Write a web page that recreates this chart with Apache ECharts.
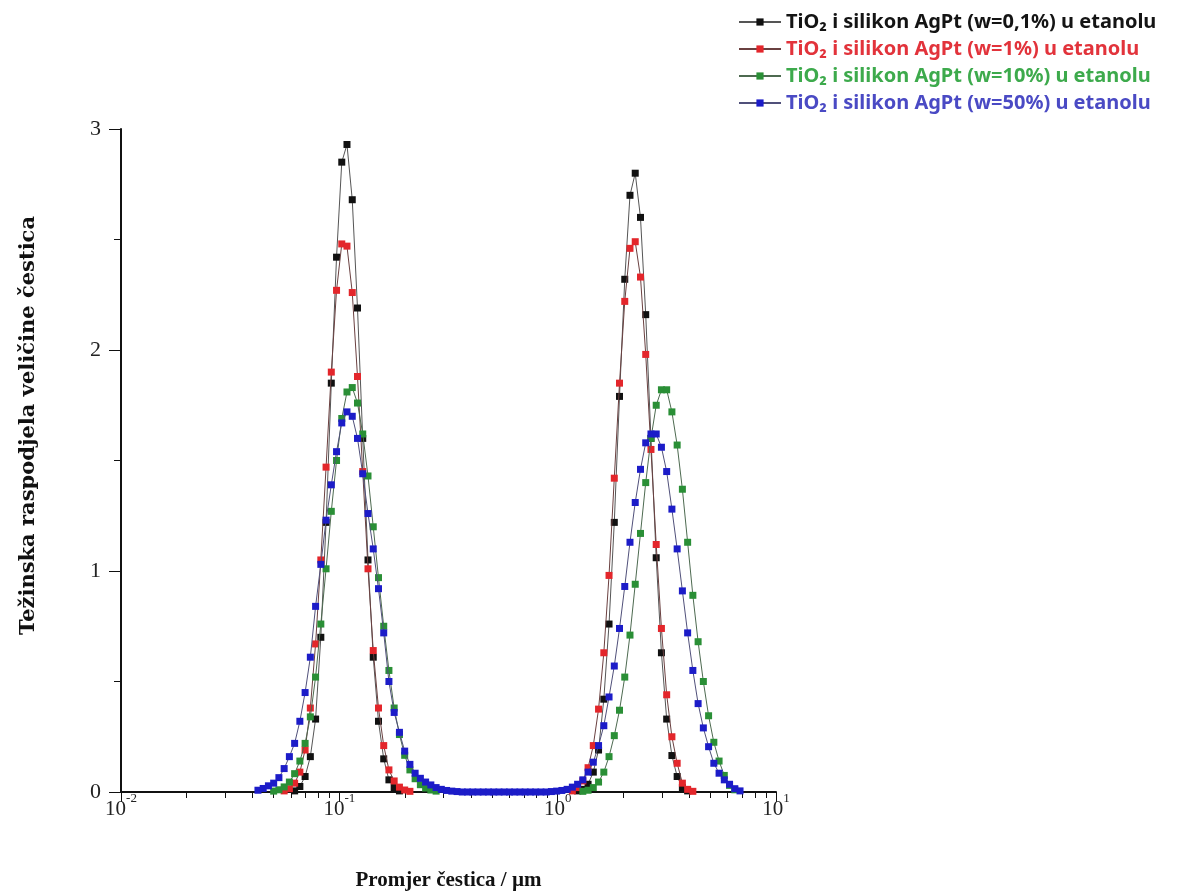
<!DOCTYPE html>
<html>
<head>
<meta charset="utf-8">
<script src="https://cdn.jsdelivr.net/npm/echarts@6/dist/echarts.min.js"></script>
<style>
html,body{margin:0;padding:0;background:#fff;}
#chart{width:1181px;height:896px;}
</style>
</head>
<body>
<div id="chart"></div>
<script>
// particle size bins (µm)
var sizes = [
  0.04239, 0.04480, 0.04734, 0.05003, 0.05287, 0.05588, 0.05905, 0.06241, 0.06595, 0.06970,
  0.07366, 0.07785, 0.08227, 0.08694, 0.09188, 0.09710, 0.1026, 0.1084, 0.1146, 0.1211,
  0.1280, 0.1353, 0.1430, 0.1511, 0.1597, 0.1687, 0.1783, 0.1885, 0.1992, 0.2105,
  0.2224, 0.2351, 0.2484, 0.2625, 0.2775, 0.2932, 0.3099, 0.3275, 0.3461, 0.3657,
  0.3865, 0.4085, 0.4317, 0.4562, 0.4821, 0.5095, 0.5385, 0.5691, 0.6014, 0.6356,
  0.6717, 0.7098, 0.7502, 0.7928, 0.8379, 0.8855, 0.9358, 0.9893, 1.0455, 1.1049,
  1.1677, 1.2340, 1.304, 1.378, 1.456, 1.539, 1.627, 1.719, 1.817, 1.920,
  2.029, 2.144, 2.266, 2.395, 2.531, 2.675, 2.827, 2.987, 3.157, 3.336,
  3.526, 3.726, 3.938, 4.161, 4.398, 4.648, 4.912, 5.191, 5.486, 5.797,
  6.127, 6.475, 6.843
];

var w01 = [
  null, null, null, null, null, null, null, 0.005, 0.025, 0.07,
  0.16, 0.33, 0.70, 1.22, 1.85, 2.42, 2.85, 2.93, 2.68, 2.19,
  1.60, 1.05, 0.61, 0.32, 0.15, 0.055, 0.02, 0.005, null, null,
  null, null, null, null, null, null, null, null, null, null,
  null, null, null, null, null, null, null, null, null, null,
  null, null, null, null, null, null, null, null, null, null,
  null, 0.005, 0.012, 0.035, 0.09, 0.19, 0.42, 0.76, 1.22, 1.79,
  2.32, 2.70, 2.80, 2.60, 2.16, 1.60, 1.06, 0.63, 0.33, 0.165,
  0.07, 0.02, 0.005, null, null, null, null, null, null, null,
  null, null, null
];

var w1 = [
  null, null, null, null, null, 0.005, 0.015, 0.04, 0.09, 0.19,
  0.38, 0.67, 1.05, 1.47, 1.90, 2.27, 2.48, 2.47, 2.26, 1.88,
  1.45, 1.01, 0.64, 0.38, 0.21, 0.10, 0.05, 0.022, 0.009, 0.003,
  null, null, null, null, null, null, null, null, null, null,
  null, null, null, null, null, null, null, null, null, null,
  null, null, null, null, null, null, null, null, null, null,
  0.005, 0.02, 0.05, 0.11, 0.21, 0.375, 0.63, 0.98, 1.42, 1.85,
  2.22, 2.46, 2.49, 2.33, 1.98, 1.55, 1.12, 0.74, 0.44, 0.25,
  0.13, 0.04, 0.012, 0.003, null, null, null, null, null, null,
  null, null, null
];

var w10 = [
  null, null, null, 0.004, 0.01, 0.023, 0.045, 0.083, 0.14, 0.22,
  0.34, 0.52, 0.76, 1.01, 1.27, 1.50, 1.69, 1.81, 1.83, 1.76,
  1.62, 1.43, 1.20, 0.97, 0.75, 0.55, 0.38, 0.26, 0.166, 0.10,
  0.06, 0.033, 0.018, 0.009, 0.004, null, null, null, null, null,
  null, null, null, null, null, null, null, null, null, null,
  null, null, null, null, null, null, null, null, null, null,
  null, null, 0.003, 0.008, 0.02, 0.045, 0.09, 0.16, 0.255, 0.37,
  0.52, 0.71, 0.94, 1.17, 1.40, 1.60, 1.75, 1.82, 1.82, 1.72,
  1.57, 1.37, 1.13, 0.89, 0.68, 0.50, 0.345, 0.225, 0.14, 0.075,
  0.03, 0.01, null
];

var w50 = [
  0.008, 0.016, 0.028, 0.04, 0.065, 0.106, 0.16, 0.22, 0.32, 0.45,
  0.61, 0.84, 1.03, 1.23, 1.39, 1.54, 1.67, 1.72, 1.70, 1.60,
  1.44, 1.26, 1.10, 0.92, 0.72, 0.50, 0.36, 0.27, 0.185, 0.125,
  0.085, 0.062, 0.045, 0.032, 0.02, 0.012, 0.007, 0.004, 0.002, 0,
  0, 0, 0, 0, 0, 0, 0, 0, 0, 0,
  0, 0, 0, 0, 0, 0, 0.002, 0.004, 0.007, 0.012,
  0.022, 0.035, 0.055, 0.09, 0.135, 0.21, 0.30, 0.43, 0.57, 0.74,
  0.93, 1.13, 1.31, 1.46, 1.58, 1.62, 1.62, 1.56, 1.45, 1.28,
  1.10, 0.91, 0.72, 0.55, 0.40, 0.29, 0.205, 0.13, 0.085, 0.055,
  0.035, 0.015, 0.005
];

var seriesNames = [
  'TiO\u2082 i silikon AgPt (w=0,1%) u etanolu',
  'TiO\u2082 i silikon AgPt (w=1%) u etanolu',
  'TiO\u2082 i silikon AgPt (w=10%) u etanolu',
  'TiO\u2082 i silikon AgPt (w=50%) u etanolu'
];
var seriesValues = [w01, w1, w10, w50];
var markerColors = ['#111111', '#e3262b', '#2a8f36', '#1c1cc8'];
var legendTextColors = ['#141414', '#e2333b', '#3daa4c', '#4a4ac4'];
var lineColors = ['#555555', '#6a4040', '#4d6a50', '#50507a'];

var yTicks = [0, 1, 2, 3];
var xMinorTicks = [0.02,0.03,0.04,0.05,0.06,0.07,0.08,0.09,
                   0.2,0.3,0.4,0.5,0.6,0.7,0.8,0.9,
                   2,3,4,5,6,7,8,9];

var series = seriesValues.map(function (vals, k) {
  return {
    name: seriesNames[k],
    type: 'line',
    xAxisIndex: 0,
    data: sizes.map(function (x, i) { return [x, vals[i]]; }),
    symbol: 'rect',
    symbolSize: 7,
    showSymbol: true,
    showAllSymbol: true,
    connectNulls: false,
    itemStyle: { color: markerColors[k] },
    lineStyle: { color: lineColors[k], width: 1 },
    emphasis: { disabled: true },
    z: 2 + k
  };
});

var chart = echarts.init(document.getElementById('chart'), null, { renderer: 'canvas' });
chart.setOption({
  animation: false,
  backgroundColor: '#ffffff',
  grid: { left: 121, right: 405, top: 129, bottom: 101, containLabel: false },
  legend: {
    orient: 'vertical',
    left: 733,
    top: 7,
    itemWidth: 42,
    itemHeight: 9,
    itemGap: 7,
    textStyle: { fontFamily: 'Noto Sans', fontSize: 20, fontWeight: 'bold' },
    data: seriesNames.map(function (n, k) {
      return { name: n, textStyle: { color: legendTextColors[k] } };
    })
  },
  xAxis: [
    {
      type: 'log',
      logBase: 10,
      min: 0.01,
      max: 10,
      name: 'Promjer čestica / µm',
      nameLocation: 'middle',
      nameGap: 78,
      nameTextStyle: { fontFamily: 'Liberation Serif', fontWeight: 'bold', fontSize: 21, color: '#111' },
      axisLine: { show: true, onZero: false, lineStyle: { color: '#111', width: 2 } },
      axisTick: { show: true, inside: false, length: 10, lineStyle: { color: '#111', width: 1 } },
      splitLine: { show: false },
      axisLabel: {
        margin: 0,
        formatter: function (v) {
          var e = Math.round(Math.log10(v));
          return '{b|10}{s|' + e + '}';
        },
        rich: {
          b: { fontFamily: 'Liberation Serif', fontSize: 21, color: '#222', verticalAlign: 'bottom', lineHeight: 28 },
          s: { fontFamily: 'Liberation Serif', fontSize: 13, color: '#222', verticalAlign: 'top', lineHeight: 14 }
        }
      }
    },
    {
      type: 'log',
      logBase: 10,
      min: 0.01,
      max: 10,
      position: 'bottom',
      axisLine: { show: false },
      axisLabel: { show: false },
      splitLine: { show: false },
      axisTick: { show: true, inside: false, length: 6, customValues: xMinorTicks, lineStyle: { color: '#111', width: 1 } }
    }
  ],
  yAxis: {
    type: 'value',
    min: 0,
    max: 3,
    interval: 1,
    name: 'Težinska raspodjela veličine čestica',
    nameLocation: 'middle',
    nameGap: 82,
    nameTextStyle: { fontFamily: 'DejaVu Serif', fontWeight: 'bold', fontSize: 21, color: '#111', padding: [0, 0, 0, 70] },
    axisLine: { show: true, lineStyle: { color: '#111', width: 2 } },
    axisTick: { show: true, inside: false, length: 12, lineStyle: { color: '#111', width: 1 } },
    minorTick: { show: true, splitNumber: 2, length: 7, lineStyle: { color: '#111', width: 1 } },
    splitLine: { show: false },
    minorSplitLine: { show: false },
    axisLabel: {
      margin: 20,
      fontFamily: 'Liberation Serif',
      fontSize: 22,
      color: '#222',
      customValues: yTicks
    }
  },
  series: series
});
</script>
</body>
</html>
